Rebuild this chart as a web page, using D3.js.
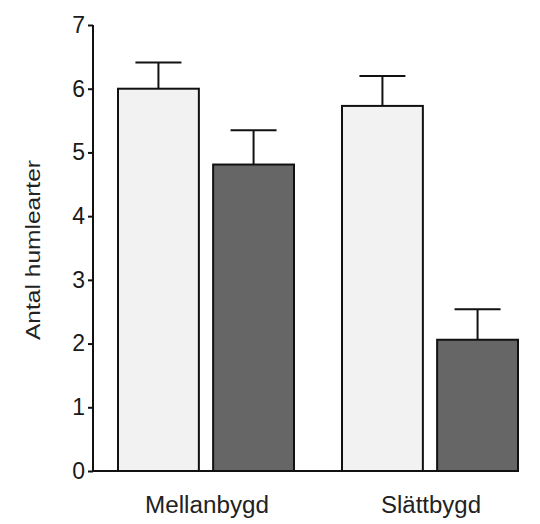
<!DOCTYPE html>
<html>
<head>
<meta charset="utf-8">
<script src="https://cdn.jsdelivr.net/npm/d3@7"></script>
<style>
html,body{margin:0;padding:0;background:#fff;}
svg{display:block;font-family:"Liberation Sans",Arial,sans-serif;}
</style>
</head>
<body>
<svg id="chart" width="540" height="524"></svg>
<script>
const groups = ["Mellanbygd", "Slättbygd"];
const seriesKeys = ["ljus", "mörk"];
const meanLight = [6.0, 5.73];
const errLight = [0.41, 0.47];
const meanDark = [4.81, 2.06];
const errDark = [0.54, 0.48];
const yTicks = [0, 1, 2, 3, 4, 5, 6, 7];
const yLabel = "Antal humlearter";

const rows = [];
groups.forEach((g, i) => {
  rows.push({group: g, key: "ljus", mean: meanLight[i], err: errLight[i]});
  rows.push({group: g, key: "mörk", mean: meanDark[i], err: errDark[i]});
});
const fills = {"ljus": "#f2f2f2", "mörk": "#666666"};

const svg = d3.select("#chart");
const y = d3.scaleLinear().domain([0, 7]).range([471, 25]);
const x0 = d3.scaleBand().domain(groups).range([94, 542]).padding(0);
const x1 = d3.scaleBand().domain(seriesKeys).range([24, 200]).paddingInner(0.15).paddingOuter(0);

// bars
const bars = svg.append("g");
bars.selectAll("rect").data(rows).join("rect")
  .attr("x", d => x0(d.group) + x1(d.key))
  .attr("y", d => y(d.mean))
  .attr("width", x1.bandwidth())
  .attr("height", d => y(0) - y(d.mean))
  .attr("fill", d => fills[d.key])
  .attr("stroke", "#111")
  .attr("stroke-width", 2);

// error bars (upper only)
const eb = svg.append("g").attr("stroke", "#111").attr("stroke-width", 2);
rows.forEach(d => {
  const cx = x0(d.group) + x1(d.key) + x1.bandwidth() / 2;
  eb.append("line").attr("x1", cx).attr("x2", cx).attr("y1", y(d.mean)).attr("y2", y(d.mean + d.err));
  eb.append("line").attr("x1", cx - 23).attr("x2", cx + 23).attr("y1", y(d.mean + d.err)).attr("y2", y(d.mean + d.err));
});

// baseline
svg.append("line")
  .attr("x1", 93).attr("x2", x0(groups[1]) + x1("mörk") + x1.bandwidth() + 1)
  .attr("y1", y(0)).attr("y2", y(0))
  .attr("stroke", "#111").attr("stroke-width", 2);

// y axis
const yAxis = d3.axisLeft(y).tickValues(yTicks).tickFormat(d3.format("d")).tickSize(5).tickPadding(3);
const ga = svg.append("g").attr("transform", "translate(93,0)").call(yAxis);
ga.select(".domain").attr("stroke", "#111").attr("stroke-width", 2).attr("d", `M0,${y(7)}V${y(0)}`);
ga.selectAll(".tick line").attr("stroke", "#111").attr("stroke-width", 2);
ga.selectAll(".tick text").attr("font-size", 23).attr("fill", "#1a1a1a")
  .attr("font-family", "Liberation Sans, Arial, sans-serif");

// x labels
svg.append("g").selectAll("text").data(groups).join("text")
  .attr("x", d => x0(d) + x0.bandwidth() / 2 + 1)
  .attr("y", 513)
  .attr("text-anchor", "middle")
  .attr("font-size", 23)
  .attr("fill", "#222")
  .attr("textLength", (d, i) => i === 0 ? 124 : 100)
  .attr("lengthAdjust", "spacingAndGlyphs")
  .text(d => d);

// y label
svg.append("text")
  .attr("transform", "translate(40,250) rotate(-90)")
  .attr("text-anchor", "middle")
  .attr("font-size", 21)
  .attr("fill", "#222")
  .attr("textLength", 180)
  .attr("lengthAdjust", "spacingAndGlyphs")
  .text(yLabel);
</script>
</body>
</html>
